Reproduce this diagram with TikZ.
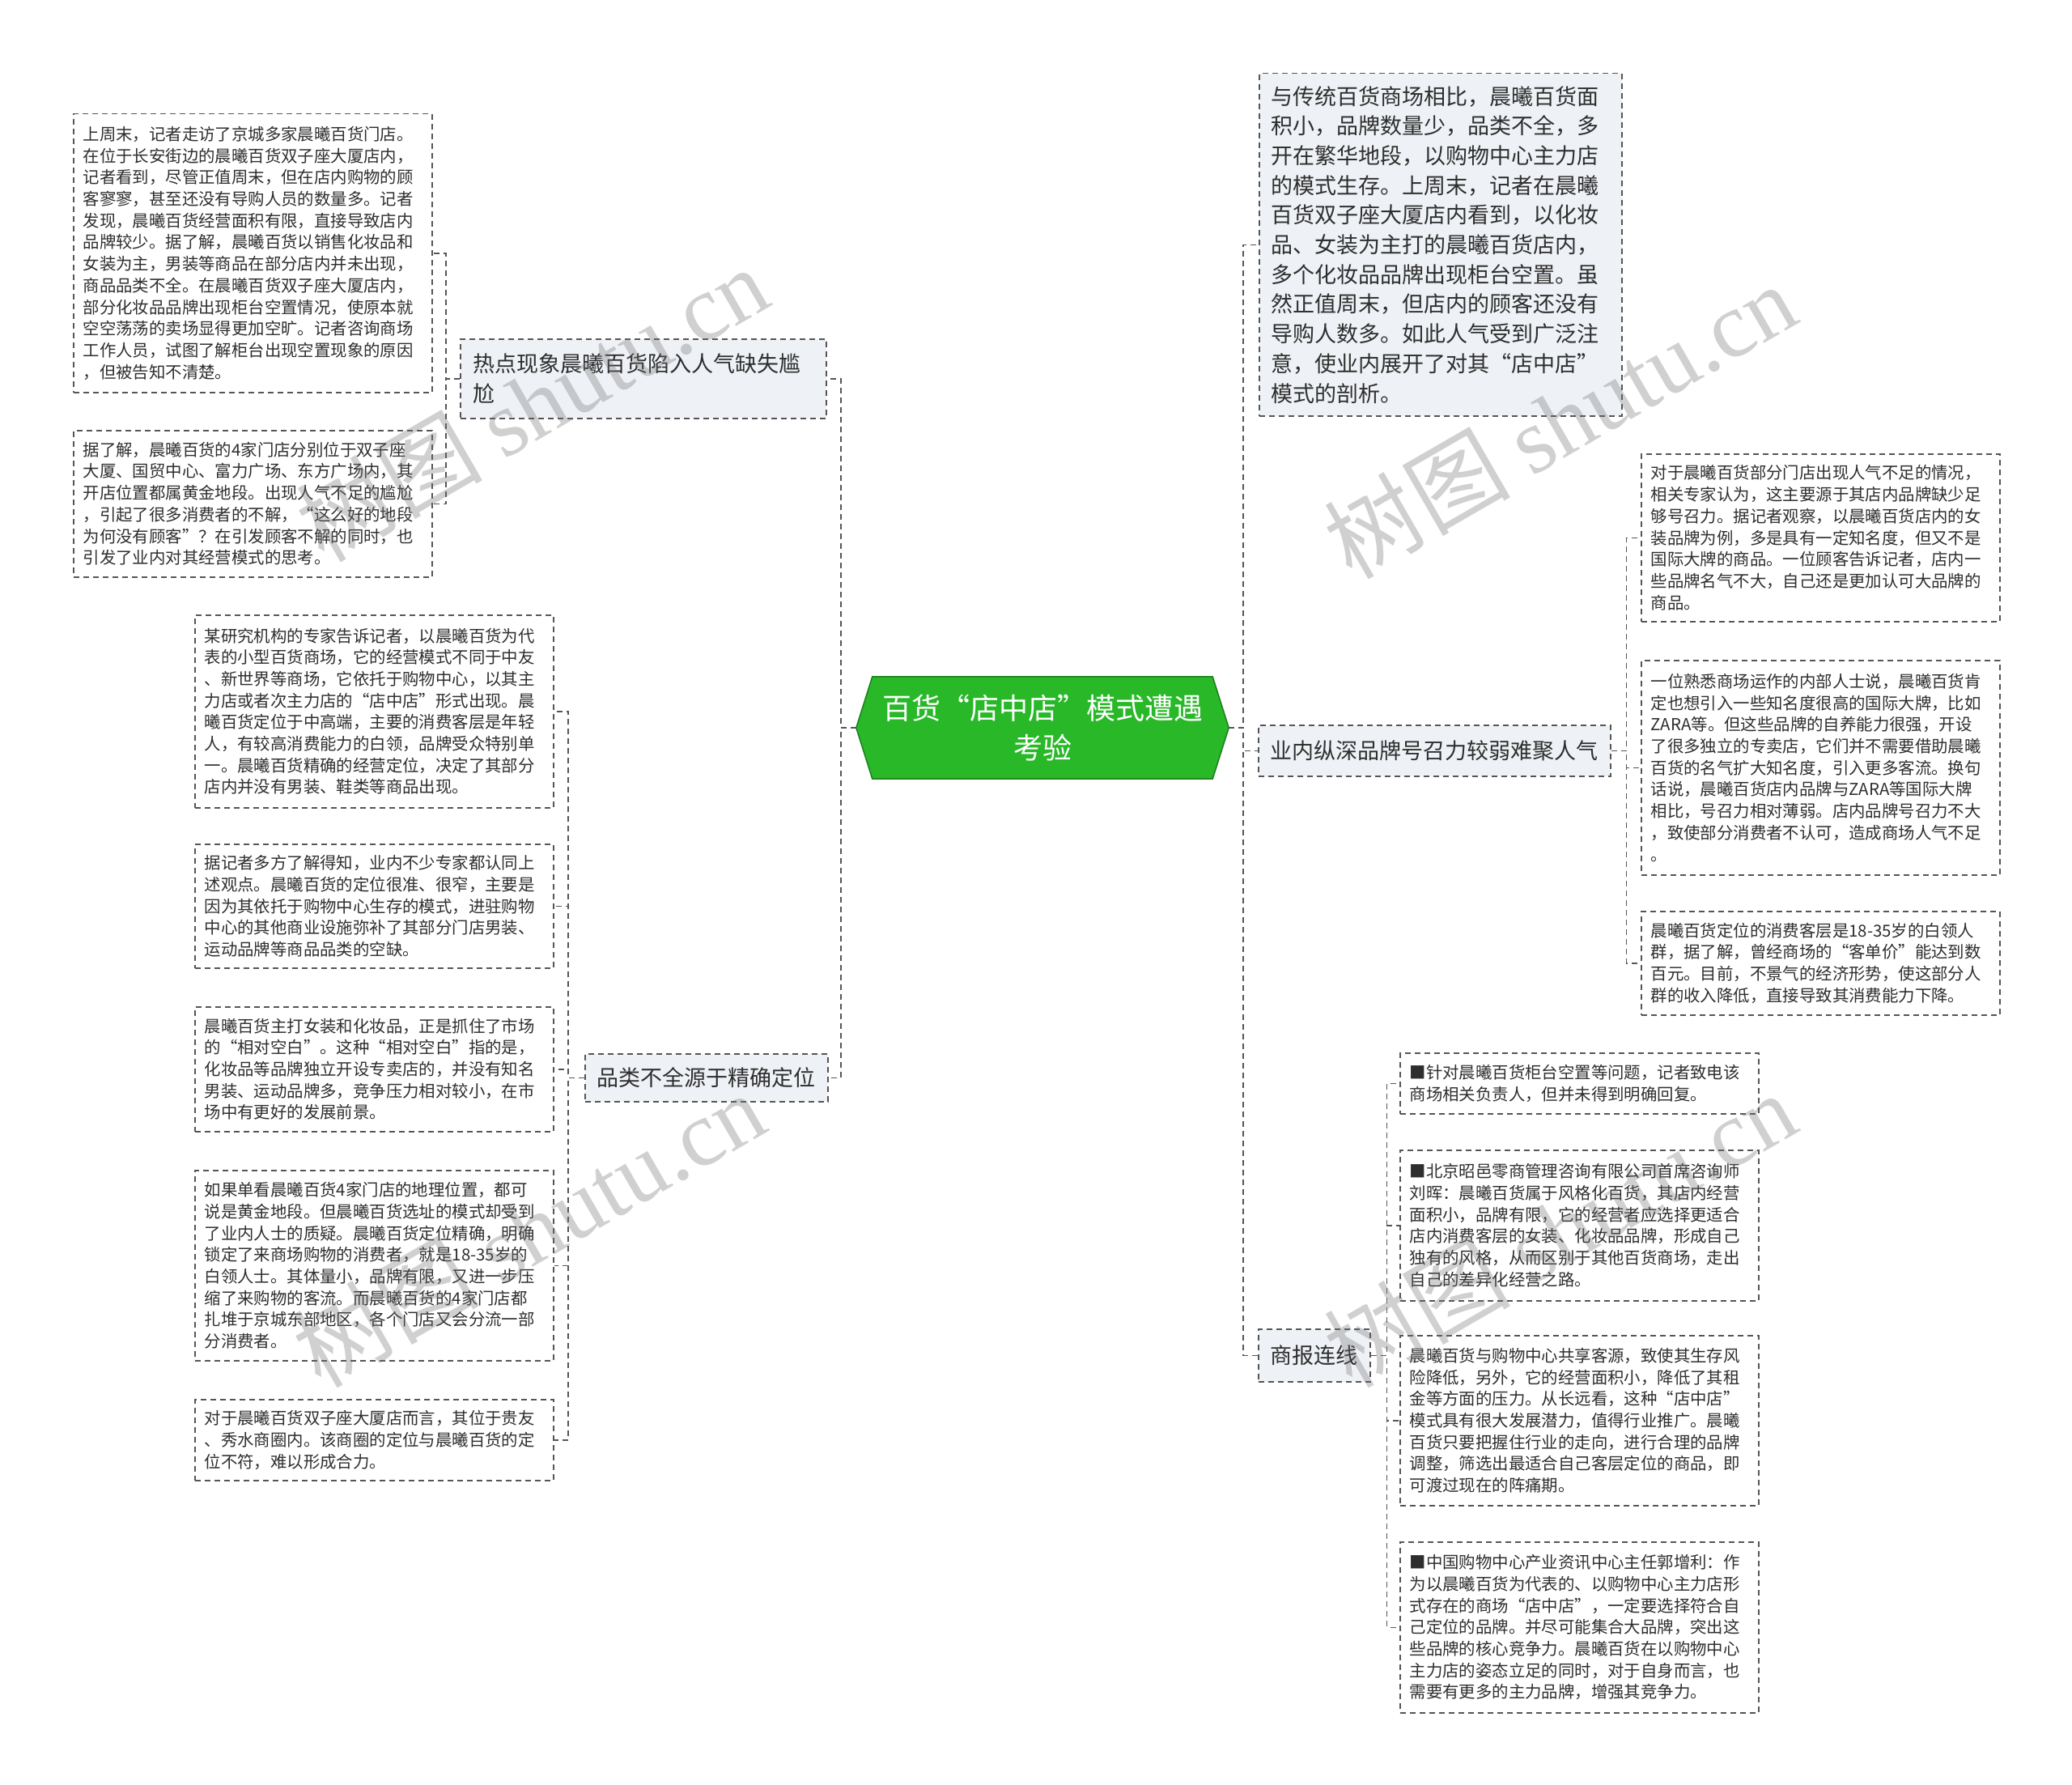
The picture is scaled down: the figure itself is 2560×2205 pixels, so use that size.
\documentclass[tikz,border=0pt]{standalone}
\usepackage{fontspec}
\setmainfont{Noto Sans CJK SC}
\newfontfamily\wmlatin{Liberation Serif}
\usetikzlibrary{calc}
\pgfdeclarelayer{background}
\pgfsetlayers{background,main}
\definecolor{linegray}{HTML}{555555}
\definecolor{boxfill}{HTML}{EEF1F5}
\definecolor{txt}{HTML}{2E2E2E}
\definecolor{cengreen}{HTML}{28B828}
\definecolor{cenborder}{HTML}{1C7F1C}
\newcommand\cqo{\makebox[1em][r]{“}}
\newcommand\cqc{\makebox[1em][l]{”}}
\newcommand\leaffont{\fontsize{20.4pt}{26.7pt}\selectfont}
\newcommand\branchfont{\fontsize{27pt}{36.7pt}\selectfont}
\newcommand\cenfont{\fontsize{36pt}{49pt}\selectfont}
\tikzset{
  dsh/.style={dash pattern=on 7pt off 5pt, line width=1.5pt},
  leaf/.style={draw=linegray, dsh, anchor=north west, align=left,
    inner xsep=12pt, inner ysep=0pt, text width=419pt, font=\leaffont, text=txt},
  branch/.style={draw=linegray, dsh, fill=boxfill, anchor=north west, align=left,
    inner xsep=15pt, inner ysep=0pt, font=\branchfont, text=txt},
  cen/.style={align=center, text=white, font=\cenfont, inner sep=0pt,
    minimum width=460pt, minimum height=126pt},
  conn/.style={draw=linegray, dsh},
  wm/.style={rotate=30, text=black!55, opacity=0.33, font=\fontsize{115pt}{115pt}\selectfont}
}
\begin{document}
\begin{tikzpicture}[x=1pt,y=-1pt]
\useasboundingbox (0,0) rectangle (2560,2205);
\begin{pgfonlayer}{background}
\fill[white] (0,0) rectangle (2560,2205);
\end{pgfonlayer}

% central
\node[cen] (c) at (1288,899) {百货\cqo 店中店\cqc 模式遭遇\\考验};
\begin{pgfonlayer}{background}
\draw[fill=cengreen, draw=cenborder, line width=1.5pt]
  (c.west) -- ([xshift=20pt]c.north west) -- ([xshift=-20pt]c.north east) -- (c.east)
  -- ([xshift=-20pt]c.south east) -- ([xshift=20pt]c.south west) -- cycle;
\end{pgfonlayer}

% left branches
\node[branch, text width=421pt, minimum height=98pt, inner xsep=15.5pt] (A) at (568,418)
  {热点现象晨曦百货陷入人气缺失尴\\尬};
\node[branch, minimum width=298pt, minimum height=59pt, align=center] (B) at (722,1301)
  {品类不全源于精确定位};

% right branches
\node[branch, text width=418pt, minimum height=423pt] (C) at (1555,90)
  {与传统百货商场相比，晨曦百货面\\积小，品牌数量少，品类不全，多\\开在繁华地段，以购物中心主力店\\的模式生存。上周末，记者在晨曦\\百货双子座大厦店内看到，以化妆\\品、女装为主打的晨曦百货店内，\\多个化妆品品牌出现柜台空置。虽\\然正值周末，但店内的顾客还没有\\导购人数多。如此人气受到广泛注\\意，使业内展开了对其\cqo 店中店\cqc\\模式的剖析。};
\node[branch, minimum width=435pt, minimum height=63pt, align=center] (D) at (1554,895)
  {业内纵深品牌号召力较弱难聚人气};
\node[branch, minimum width=136pt, minimum height=65pt, align=center] (E) at (1554,1641)
  {商报连线};

% leaves of A
\node[leaf, minimum height=344pt] (L1) at (90,140)
  {上周末，记者走访了京城多家晨曦百货门店。\\在位于长安街边的晨曦百货双子座大厦店内，\\记者看到，尽管正值周末，但在店内购物的顾\\客寥寥，甚至还没有导购人员的数量多。记者\\发现，晨曦百货经营面积有限，直接导致店内\\品牌较少。据了解，晨曦百货以销售化妆品和\\女装为主，男装等商品在部分店内并未出现，\\商品品类不全。在晨曦百货双子座大厦店内，\\部分化妆品品牌出现柜台空置情况，使原本就\\空空荡荡的卖场显得更加空旷。记者咨询商场\\工作人员，试图了解柜台出现空置现象的原因\\，但被告知不清楚。};
\node[leaf, minimum height=181pt] (L2) at (90,531)
  {据了解，晨曦百货的4家门店分别位于双子座\\大厦、国贸中心、富力广场、东方广场内，其\\开店位置都属黄金地段。出现人气不足的尴尬\\，引起了很多消费者的不解，\cqo 这么好的地段\\为何没有顾客\cqc？在引发顾客不解的同时，也\\引发了业内对其经营模式的思考。};

% leaves of B
\node[leaf, minimum height=238pt] (P1) at (240,759)
  {某研究机构的专家告诉记者，以晨曦百货为代\\表的小型百货商场，它的经营模式不同于中友\\、新世界等商场，它依托于购物中心，以其主\\力店或者次主力店的\cqo 店中店\cqc 形式出现。晨\\曦百货定位于中高端，主要的消费客层是年轻\\人，有较高消费能力的白领，品牌受众特别单\\一。晨曦百货精确的经营定位，决定了其部分\\店内并没有男装、鞋类等商品出现。};
\node[leaf, minimum height=153pt] (P2) at (240,1042)
  {据记者多方了解得知，业内不少专家都认同上\\述观点。晨曦百货的定位很准、很窄，主要是\\因为其依托于购物中心生存的模式，进驻购物\\中心的其他商业设施弥补了其部分门店男装、\\运动品牌等商品品类的空缺。};
\node[leaf, minimum height=154pt] (P3) at (240,1243)
  {晨曦百货主打女装和化妆品，正是抓住了市场\\的\cqo 相对空白\cqc。这种\cqo 相对空白\cqc 指的是，\\化妆品等品牌独立开设专卖店的，并没有知名\\男装、运动品牌多，竞争压力相对较小，在市\\场中有更好的发展前景。};
\node[leaf, minimum height=235pt] (P4) at (240,1445)
  {如果单看晨曦百货4家门店的地理位置，都可\\说是黄金地段。但晨曦百货选址的模式却受到\\了业内人士的质疑。晨曦百货定位精确，明确\\锁定了来商场购物的消费者，就是18-35岁的\\白领人士。其体量小，品牌有限，又进一步压\\缩了来购物的客流。而晨曦百货的4家门店都\\扎堆于京城东部地区，各个门店又会分流一部\\分消费者。};
\node[leaf, minimum height=100pt] (P5) at (240,1728)
  {对于晨曦百货双子座大厦店而言，其位于贵友\\、秀水商圈内。该商圈的定位与晨曦百货的定\\位不符，难以形成合力。};

% leaves of D
\node[leaf, minimum height=207pt] (R1) at (2027,560)
  {对于晨曦百货部分门店出现人气不足的情况，\\相关专家认为，这主要源于其店内品牌缺少足\\够号召力。据记者观察，以晨曦百货店内的女\\装品牌为例，多是具有一定知名度，但又不是\\国际大牌的商品。一位顾客告诉记者，店内一\\些品牌名气不大，自己还是更加认可大品牌的\\商品。};
\node[leaf, minimum height=265pt] (R2) at (2027,815)
  {一位熟悉商场运作的内部人士说，晨曦百货肯\\定也想引入一些知名度很高的国际大牌，比如\\ZARA等。但这些品牌的自养能力很强，开设\\了很多独立的专卖店，它们并不需要借助晨曦\\百货的名气扩大知名度，引入更多客流。换句\\话说，晨曦百货店内品牌与ZARA等国际大牌\\相比，号召力相对薄弱。店内品牌号召力不大\\，致使部分消费者不认可，造成商场人气不足\\。};
\node[leaf, minimum height=128pt] (R3) at (2027,1125)
  {晨曦百货定位的消费客层是18-35岁的白领人\\群，据了解，曾经商场的\cqo 客单价\cqc 能达到数\\百元。目前，不景气的经济形势，使这部分人\\群的收入降低，直接导致其消费能力下降。};

% leaves of E
\node[leaf, minimum height=75pt] (S1) at (1729,1300)
  {■针对晨曦百货柜台空置等问题，记者致电该\\商场相关负责人，但并未得到明确回复。};
\node[leaf, minimum height=186pt] (S2) at (1729,1420)
  {■北京昭邑零商管理咨询有限公司首席咨询师\\刘晖：晨曦百货属于风格化百货，其店内经营\\面积小，品牌有限，它的经营者应选择更适合\\店内消费客层的女装、化妆品品牌，形成自己\\独有的风格，从而区别于其他百货商场，走出\\自己的差异化经营之路。};
\node[leaf, minimum height=210pt] (S3) at (1729,1649)
  {晨曦百货与购物中心共享客源，致使其生存风\\险降低，另外，它的经营面积小，降低了其租\\金等方面的压力。从长远看，这种\cqo 店中店\cqc\\模式具有很大发展潜力，值得行业推广。晨曦\\百货只要把握住行业的走向，进行合理的品牌\\调整，筛选出最适合自己客层定位的商品，即\\可渡过现在的阵痛期。};
\node[leaf, minimum height=211pt] (S4) at (1729,1904)
  {■中国购物中心产业资讯中心主任郭增利：作\\为以晨曦百货为代表的、以购物中心主力店形\\式存在的商场\cqo 店中店\cqc，一定要选择符合自\\己定位的品牌。并尽可能集合大品牌，突出这\\些品牌的核心竞争力。晨曦百货在以购物中心\\主力店的姿态立足的同时，对于自身而言，也\\需要有更多的主力品牌，增强其竞争力。};

% connectors
\foreach \t in {A,B} \draw[conn] (c.west) -- ++(-19,0) |- (\t.east);
\foreach \t in {C,D,E} \draw[conn] (c.east) -- ++(18,0) |- (\t.west);
\foreach \t in {L1,L2} \draw[conn] (A.west) -- ++(-17,0) |- (\t.east);
\foreach \t in {P1,P2,P3,P4,P5} \draw[conn] (B.west) -- ++(-20,0) |- (\t.east);
\foreach \t in {R1,R2,R3} \draw[conn] (D.east) -- ++(19,0) |- (\t.west);
\foreach \t in {S1,S2,S3,S4} \draw[conn] (E.east) -- ++(20,0) |- (\t.west);

% watermarks
\node[wm] (w1) at (657,498) {树图 {\wmlatin shutu.cn}};
\node[wm] (w2) at (1927,519) {树图 {\wmlatin shutu.cn}};
\node[wm] (w3) at (653,1518) {树图 {\wmlatin shutu.cn}};
\node[wm] (w4) at (1927,1518) {树图 {\wmlatin shutu.cn}};
\end{tikzpicture}
\end{document}
